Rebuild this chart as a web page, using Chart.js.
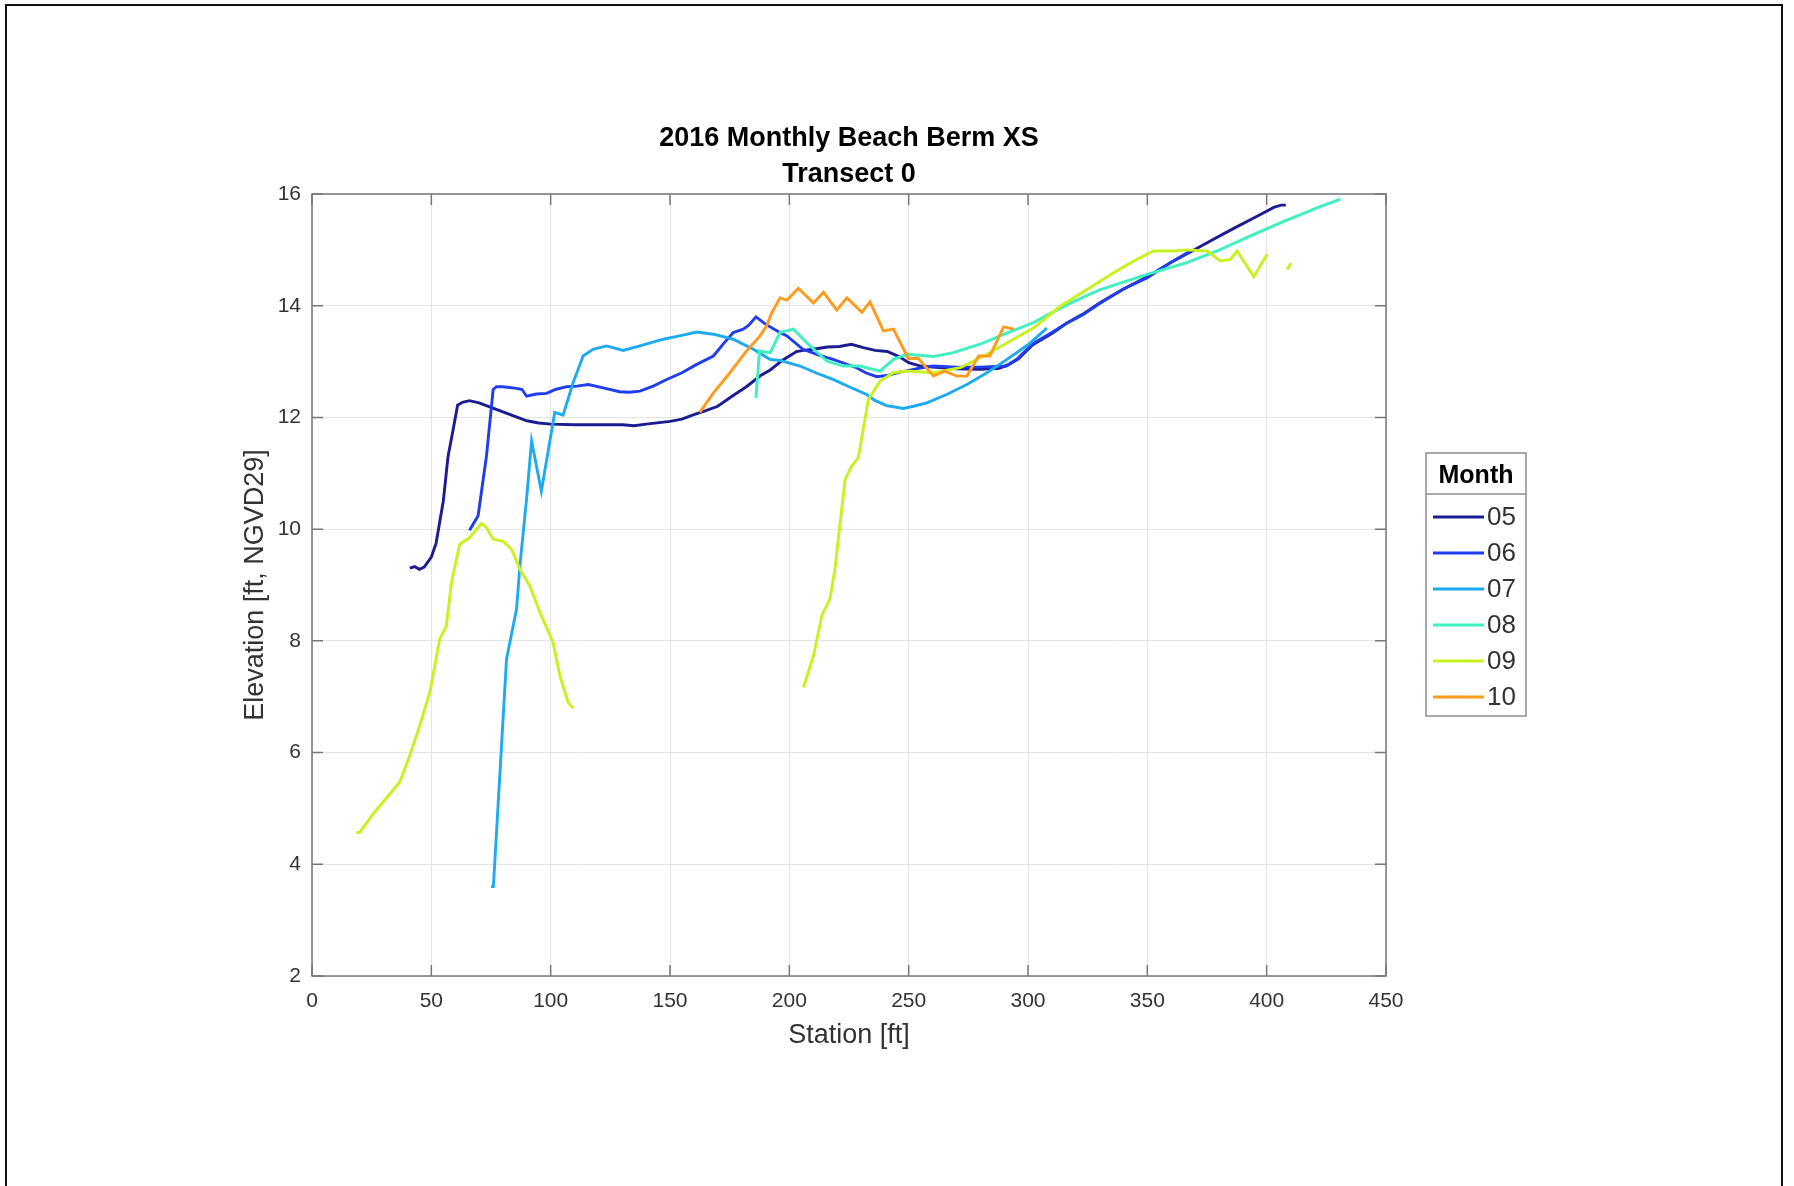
<!DOCTYPE html>
<html>
<head>
<meta charset="utf-8">
<title>2016 Monthly Beach Berm XS</title>
<script src="https://cdn.jsdelivr.net/npm/chart.js@4.4.0/dist/chart.umd.min.js"></script>
<style>
  html, body { margin: 0; padding: 0; background: #fff; overflow: hidden; }
  #frame { position: absolute; left: 5px; top: 4px; width: 1778px; height: 1300px; border: 2px solid #111; box-sizing: border-box; }
  #wrap { position: absolute; left: 0; top: 0; width: 1794px; height: 1186px; }
</style>
</head>
<body>
<div id="frame"></div>
<div id="wrap"><canvas id="chart" width="1794" height="1186"></canvas></div>
<script>
'use strict';

// Months (legend labels)
const months = ['05', '06', '07', '08', '09', '10'];

// Station [ft] / Elevation [ft, NGVD29] per survey month
const st05 = [41,43,45,47,50,52,55,57,59,61,63,66,70,75,80,85,90,95,100,110,120,130,135,140,150,155,160,165,170,176,182,188,192,197,203,206,210,216,221,226,231,236,241,246,250,255,260,270,280,288,292,296,302,310,316,323,330,340,350,360,368,376,386,395,403,406,408];
const el05 = [9.3,9.33,9.28,9.32,9.5,9.75,10.5,11.3,11.75,12.22,12.27,12.3,12.26,12.18,12.1,12.02,11.94,11.9,11.88,11.87,11.87,11.87,11.85,11.88,11.93,11.97,12.05,12.12,12.2,12.38,12.55,12.75,12.85,13.02,13.18,13.2,13.22,13.26,13.27,13.31,13.25,13.2,13.18,13.09,12.98,12.92,12.9,12.87,12.86,12.88,12.95,13.05,13.3,13.5,13.68,13.85,14.05,14.3,14.52,14.78,14.96,15.15,15.38,15.58,15.76,15.8,15.8];

const st06 = [66,69.6,73.1,75.9,77.3,80,85.7,88,89.9,94,98.3,102,106.7,111,115.8,122,128.9,133,137.4,143,148.6,155,161.2,168.2,172,176.5,180.7,183,186,190,196,199,205.7,212,218.3,223,228.1,232,236.6,241,246.4,253,260,270,280,291,295.3,302,310,316,323,330,340,350,360,368];
const el06 = [9.98,10.24,11.31,12.5,12.55,12.55,12.52,12.5,12.38,12.42,12.43,12.5,12.55,12.56,12.59,12.53,12.46,12.45,12.47,12.56,12.68,12.8,12.95,13.1,13.3,13.52,13.58,13.65,13.8,13.67,13.52,13.46,13.22,13.12,13.04,12.97,12.89,12.8,12.73,12.75,12.81,12.87,12.92,12.9,12.9,12.92,13.04,13.32,13.52,13.68,13.84,14.04,14.3,14.5,14.78,14.98];

const st07 = [75,76,81.5,85.7,87.1,89.9,92,96.1,101.7,105.2,109.4,113.6,117.8,123.4,130.4,137.4,147.2,155,161.2,168.2,176.5,184.9,191.9,196.1,204.5,211,218.3,225,232.4,236,240.8,247.8,252,257.6,265.9,274.4,282.8,291.2,300,307.9];
const el07 = [3.6,3.6,7.67,8.57,9.34,10.54,11.58,10.68,12.09,12.04,12.62,13.1,13.22,13.28,13.2,13.28,13.4,13.47,13.53,13.49,13.4,13.22,13.04,13.02,12.92,12.8,12.68,12.55,12.41,12.3,12.21,12.16,12.2,12.26,12.41,12.59,12.8,13.04,13.3,13.6];

const st08 = [186,187.5,192,196.1,201.7,208.7,215.7,222.6,229.6,238,243.6,249.2,260.4,268.7,279.9,288.3,302.3,316.3,330.3,349.9,366.6,379.2,393.2,407.2,421.1,430.9];
const el08 = [12.35,13.19,13.16,13.52,13.58,13.28,13.01,12.92,12.92,12.83,13.04,13.13,13.09,13.16,13.31,13.46,13.7,14.02,14.29,14.56,14.77,14.98,15.25,15.51,15.75,15.91];

// null = break in the surveyed line
const st09 = [18.6,20,25.6,29.7,36.7,40.9,45.1,49.4,53.5,56.3,58.4,61.9,66.1,71,73.1,75.9,80.1,83.6,87.1,91.3,95.5,101,103.9,107.3,109.4,150,205.9,210.1,213.6,217,219.1,221.3,223.4,226.1,228.9,233.1,238,243.6,249,260.4,271.6,282.8,292.6,302.3,313.5,324.7,335.9,344.3,352.6,361,366.6,375,380.6,384.8,387.6,394.6,400.2,405,408.6,410.2];
const el09 = [4.57,4.57,4.9,5.11,5.47,5.94,6.48,7.08,8.03,8.27,9.04,9.73,9.85,10.1,10.03,9.82,9.78,9.64,9.28,8.98,8.51,7.97,7.37,6.9,6.79,null,7.17,7.73,8.45,8.75,9.28,10.12,10.89,11.13,11.28,12.32,12.65,12.8,12.83,12.8,12.89,13.13,13.37,13.6,13.99,14.29,14.59,14.8,14.98,14.98,15.0,14.98,14.8,14.83,14.98,14.52,14.92,null,14.65,14.76];

const st10 = [162.5,168.2,175.1,182.1,187.7,190.5,192.6,196.1,199,203.8,210.1,214.3,219.9,224.1,230.4,233.8,239.4,243.6,249.9,254,260.4,265,270.2,274.4,279.3,284,289.8,294];
const el10 = [12.09,12.44,12.8,13.19,13.46,13.64,13.87,14.14,14.1,14.31,14.05,14.24,13.92,14.14,13.88,14.07,13.55,13.58,13.05,13.06,12.74,12.83,12.74,12.74,13.1,13.1,13.62,13.58];

// Axis ticks
const xTicks = [0, 50, 100, 150, 200, 250, 300, 350, 400, 450];
const yTicks = [2, 4, 6, 8, 10, 12, 14, 16];

const stations = [st05, st06, st07, st08, st09, st10];
const elevations = [el05, el06, el07, el08, el09, el10];
const colors = ['#1c1c92', '#1f3ded', '#1eaaf0', '#3ff0c0', '#c8f21e', '#ff9a1c'];

const FONT = "'Liberation Sans', Arial, Helvetica, sans-serif";
const AXIS_COLOR = '#777777';
const TEXT_COLOR = '#333333';
const TICK_LEN = 11;

const datasets = months.map((m, i) => ({
  label: m,
  data: stations[i].map((s, k) => ({ x: s, y: elevations[i][k] })),
  borderColor: colors[i],
  backgroundColor: colors[i],
  borderWidth: 2.9,
  pointRadius: 0,
  tension: 0,
  spanGaps: false,
  fill: false,
  order: months.length - i   // later months on top, like the original
}));

// box round the axes plus inward tick marks on all four sides
const boxPlugin = {
  id: 'axesBox',
  afterDatasetsDraw(chart) {
    const { ctx, chartArea: a, scales: { x, y } } = chart;
    ctx.save();
    ctx.strokeStyle = AXIS_COLOR;
    ctx.lineWidth = 1.5;
    ctx.strokeRect(a.left, a.top, a.right - a.left, a.bottom - a.top);
    ctx.beginPath();
    xTicks.forEach(v => {
      const px = x.getPixelForValue(v);
      ctx.moveTo(px, a.bottom); ctx.lineTo(px, a.bottom - TICK_LEN);
      ctx.moveTo(px, a.top); ctx.lineTo(px, a.top + TICK_LEN);
    });
    yTicks.forEach(v => {
      const py = y.getPixelForValue(v);
      ctx.moveTo(a.left, py); ctx.lineTo(a.left + TICK_LEN, py);
      ctx.moveTo(a.right, py); ctx.lineTo(a.right - TICK_LEN, py);
    });
    ctx.stroke();
    ctx.restore();
  }
};

// legend box with "Month" header, outside the axes on the right
const legendPlugin = {
  id: 'monthLegend',
  afterDraw(chart) {
    const ctx = chart.ctx;
    const L = 1426, T = 453, W = 100, H = 263, SEP = 494;
    ctx.save();
    ctx.fillStyle = '#fff';
    ctx.fillRect(L, T, W, H);
    ctx.strokeStyle = '#8c8c8c';
    ctx.lineWidth = 1.5;
    ctx.strokeRect(L, T, W, H);
    ctx.beginPath(); ctx.moveTo(L, SEP); ctx.lineTo(L + W, SEP); ctx.stroke();

    ctx.fillStyle = '#000';
    ctx.font = 'bold 25px ' + FONT;
    ctx.textAlign = 'center';
    ctx.textBaseline = 'middle';
    ctx.fillText('Month', L + W / 2, 476);

    ctx.font = '26px ' + FONT;
    ctx.textAlign = 'left';
    chart.data.datasets.forEach((ds, i) => {
      const yy = 517 + i * 36;
      ctx.strokeStyle = ds.borderColor;
      ctx.lineWidth = 3;
      ctx.beginPath(); ctx.moveTo(1433, yy); ctx.lineTo(1484, yy); ctx.stroke();
      ctx.fillStyle = TEXT_COLOR;
      ctx.fillText(ds.label, 1487, yy + 1);
    });
    ctx.restore();
  }
};

new Chart(document.getElementById('chart'), {
  type: 'line',
  data: { datasets },
  options: {
    responsive: false,
    animation: false,
    layout: { padding: { left: 236, right: 408, top: 0, bottom: 131 } },
    plugins: {
      legend: { display: false },
      tooltip: { enabled: false },
      title: {
        display: true,
        fullSize: false,
        text: ['2016 Monthly Beach Berm XS', 'Transect 0'],
        color: '#000',
        font: { family: FONT, size: 27, weight: 'bold', lineHeight: 36 / 27 },
        padding: { top: 121, bottom: 1 }
      }
    },
    scales: {
      x: {
        type: 'linear',
        min: 0, max: 450,
        afterBuildTicks: s => { s.ticks = xTicks.map(v => ({ value: v })); },
        ticks: { color: TEXT_COLOR, font: { family: FONT, size: 21 }, padding: 13, maxRotation: 0, autoSkip: false },
        grid: { color: '#e4e4e4', lineWidth: 1, drawTicks: false },
        border: { display: false },
        title: { display: true, text: 'Station [ft]', color: TEXT_COLOR, font: { family: FONT, size: 27 }, padding: { top: 0, bottom: 3 } },
        afterFit: s => { s.height = 79; }
      },
      y: {
        type: 'linear',
        min: 2, max: 16,
        afterBuildTicks: s => { s.ticks = yTicks.map(v => ({ value: v })); },
        ticks: { color: TEXT_COLOR, font: { family: FONT, size: 21 }, padding: 11, autoSkip: false },
        grid: { color: '#e4e4e4', lineWidth: 1, drawTicks: false },
        border: { display: false },
        title: { display: true, text: 'Elevation [ft, NGVD29]', color: TEXT_COLOR, font: { family: FONT, size: 27 }, padding: { top: 3, bottom: 0 } },
        afterFit: s => { s.width = 76; }
      }
    }
  },
  plugins: [boxPlugin, legendPlugin]
});
</script>
</body>
</html>
